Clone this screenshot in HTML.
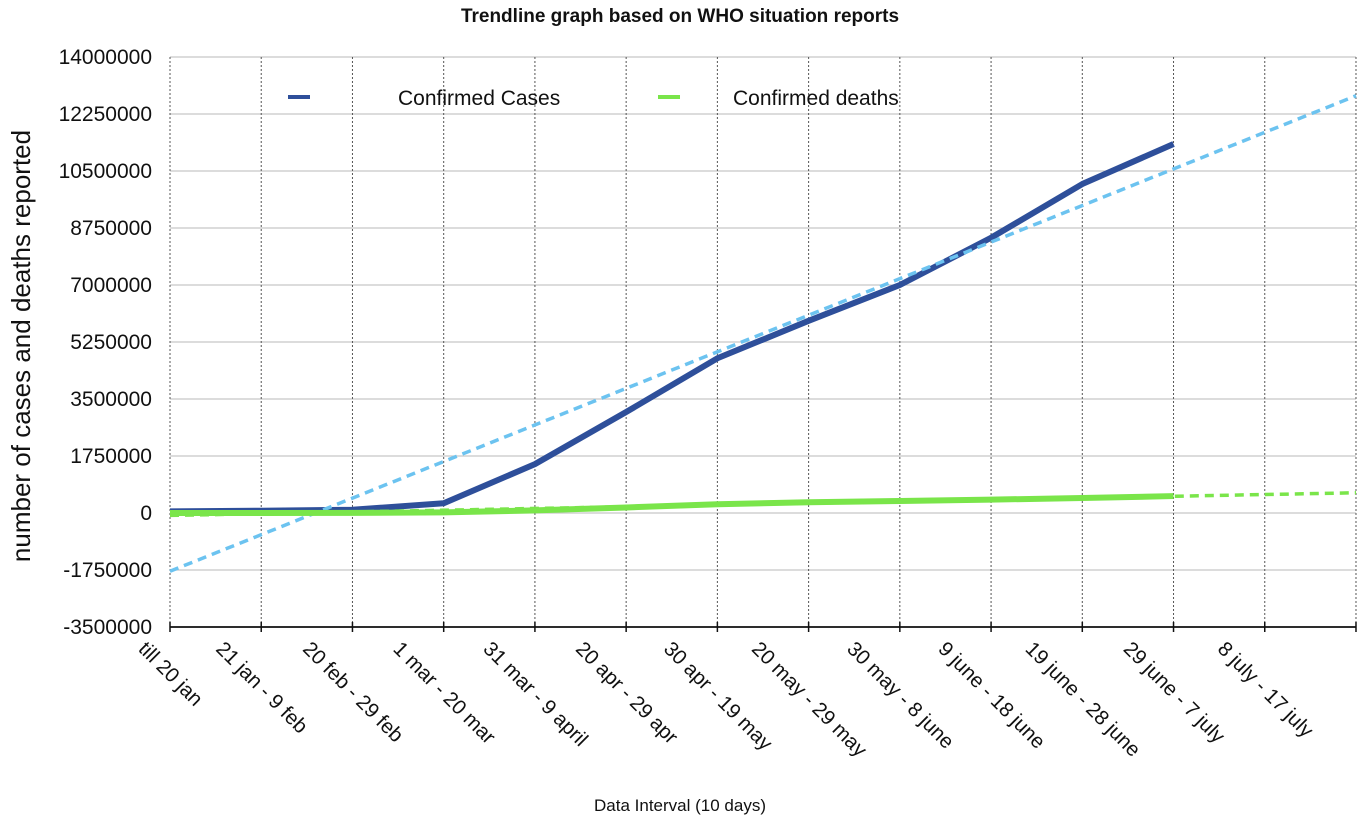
<!DOCTYPE html>
<html><head><meta charset="utf-8"><style>
body{margin:0;background:#fff;}
svg text{font-family:"Liberation Sans",Arial,sans-serif;fill:#111;}
</style></head><body>
<svg id="chart" width="1358" height="823" xmlns="http://www.w3.org/2000/svg">
<text x="680" y="22" text-anchor="middle" font-size="19" font-weight="bold">Trendline graph based on WHO situation reports</text>
<g id="grid"></g><g id="marks"></g><g id="axes"></g>
<g>
<line x1="288" y1="97" x2="310" y2="97" stroke="#2e4f9a" stroke-width="4"/>
<text x="398" y="105" font-size="21">Confirmed Cases</text>
<line x1="658" y1="97" x2="680" y2="97" stroke="#7ae54a" stroke-width="4"/>
<text x="733" y="105" font-size="21">Confirmed deaths</text>
</g>
<text transform="translate(30,346) rotate(-90)" text-anchor="middle" font-size="26">number of cases and deaths reported</text>
<text x="680" y="811" text-anchor="middle" font-size="17">Data Interval (10 days)</text>
</svg>
<script>
const categories=["till 20 jan","21 jan - 9 feb","20 feb - 29 feb","1 mar - 20 mar","31 mar - 9 april","20 apr - 29 apr","30 apr - 19 may","20 may - 29 may","30 may - 8 june","9 june - 18 june","19 june - 28 june","29 june - 7 july","8 july - 17 july"];
const cases=[50000,70000,100000,300000,1500000,3100000,4750000,5900000,7000000,8450000,10100000,11330000];
const deaths=[0,1000,3000,20000,80000,170000,270000,330000,370000,410000,460000,520000];
const yTicks=[14000000,12250000,10500000,8750000,7000000,5250000,3500000,1750000,0,-1750000,-3500000];
const NS="http://www.w3.org/2000/svg";
const X0=170,STEP=91.23,Y0=57,Y1=627,YMAX=14000000,YMIN=-3500000;
const nSlots=13;
function xs(i){return X0+i*STEP;}
function ys(v){return Y0+(YMAX-v)/(YMAX-YMIN)*(Y1-Y0);}
function mk(tag,attrs,parent){const e=document.createElementNS(NS,tag);for(const k in attrs)e.setAttribute(k,attrs[k]);parent.appendChild(e);return e;}
const grid=document.getElementById('grid'),marks=document.getElementById('marks'),axes=document.getElementById('axes');
yTicks.forEach(t=>{
 const l=mk('line',{x1:X0,x2:xs(nSlots),y1:ys(t),y2:ys(t),stroke:'#c8c8c8','stroke-width':1.2},grid);
 
 
 const tx=mk('text',{x:152,y:ys(t)+7,'text-anchor':'end','font-size':21},axes);
 tx.textContent=t;
 
 
});
for(let i=0;i<=nSlots;i++){
 const l=mk('line',{x1:xs(i),x2:xs(i),y1:Y0,y2:Y1,stroke:'#555','stroke-width':1,'stroke-dasharray':'2,2'},grid);
 
 
 const tk=mk('line',{x1:xs(i),x2:xs(i),y1:Y1-5,y2:Y1+5,stroke:'#111','stroke-width':1.5},axes);
 
 
}
const ax=mk('line',{x1:X0,x2:xs(nSlots),y1:Y1,y2:Y1,stroke:'#111','stroke-width':1.8},axes);


categories.forEach((c,i)=>{
 const t=mk('text',{'font-size':20.5},axes);
 t.textContent=c;
 
 
 const L=t.getComputedTextLength();
 const sx=xs(i)-L/2*Math.SQRT1_2-4, sy=650;
 t.setAttribute('transform','translate('+sx+','+sy+') rotate(45)');
});
function reg(arr){const n=arr.length;let sx=0,sy=0,sxx=0,sxy=0;arr.forEach((v,i)=>{sx+=i;sy+=v;sxx+=i*i;sxy+=i*v;});const b=(n*sxy-sx*sy)/(n*sxx-sx*sx);return [ (sy-b*sx)/n, b];}
function trend(arr,color,name){
 const [a,b]=reg(arr);
 const l=mk('line',{x1:xs(0),y1:ys(a),x2:xs(nSlots),y2:ys(a+b*nSlots),stroke:color,'stroke-width':3.5,'stroke-dasharray':'9,6'},marks);
 
 
}
function series(arr,color,name){
 const p=mk('polyline',{points:arr.map((v,i)=>xs(i)+','+ys(v)).join(' '),fill:'none',stroke:color,'stroke-width':6,'stroke-linejoin':'round'},marks);
 
 
}
series(cases,'#2e4f9a','cases-line');
trend(cases,'#6cc3f0','cases-trendline');
series(deaths,'#7ae54a','deaths-line');
trend(deaths,'#7ae54a','deaths-trendline');
</script>
</body></html>
